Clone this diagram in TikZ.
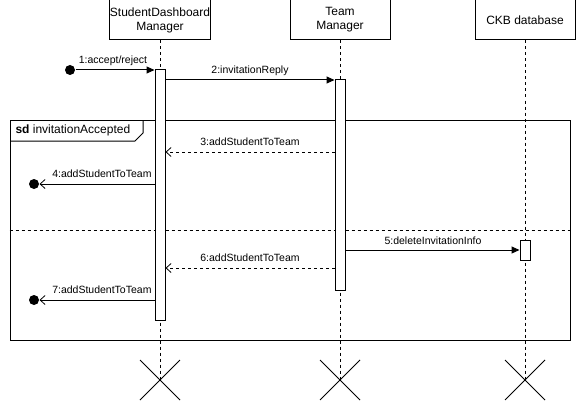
\documentclass[tikz,border=0pt]{standalone}
\usepackage{fontspec}
\setmainfont{Liberation Sans}
\usetikzlibrary{arrows.meta,calc}
\begin{document}
\begin{tikzpicture}[x=1pt,y=-1pt,line width=1pt,
  objbox/.style={draw,fill=white,minimum width=100pt,minimum height=40pt,inner sep=0pt,align=center,font=\fontsize{12}{14}\selectfont},
  actbar/.style={draw,fill=white,minimum width=10pt,inner sep=0pt},
  lifeline/.style={dashed,dash pattern=on 3pt off 3pt,line width=0.8pt},
  enddot/.style={circle,fill=black,minimum size=10pt,inner sep=0pt},
  msglbl/.style={font=\fontsize{10.5}{12}\selectfont,inner sep=0pt},
  syncmsg/.style={-{Triangle[length=8pt,width=7pt]}},
  retmsg/.style={dashed,dash pattern=on 3pt off 3pt,-{Straight Barb[length=5pt,width=9pt,line width=0.8pt]}},
  replymsg/.style={-{Straight Barb[length=5pt,width=9pt,line width=0.8pt]}},
  xmark/.style={line width=0.8pt}]
\useasboundingbox (0,0) rectangle (577,401);

% lifeline heads
\node[objbox] (sdm) at (160,20) {StudentDashboard\\Manager};
\node[objbox] (tm) at (340,20) {Team\\Manager};
\node[objbox] (ckb) at (525,20) {CKB database};

% lifeline ends
\coordinate (sdmEnd) at (160,380);
\coordinate (tmEnd) at (340,380);
\coordinate (ckbEnd) at (525,380);
\draw[lifeline] (sdm.south) -- (sdmEnd);
\draw[lifeline] (tm.south) -- (tmEnd);
\draw[lifeline] (ckb.south) -- (ckbEnd);

% destruction marks
\foreach \n in {sdmEnd,tmEnd,ckbEnd}{
  \draw[xmark] ($(\n)+(-20,-20)$) -- ($(\n)+(20,20)$);
  \draw[xmark] ($(\n)+(-20,20)$) -- ($(\n)+(20,-20)$);
}

% combined fragment
\node[draw,minimum width=560pt,minimum height=220pt,inner sep=0pt] (frame) at (290,230) {};
\draw (10,141) -- (135,141) -- (143,133) -- (143,120);
\node[anchor=west,inner sep=0pt,font=\fontsize{12}{14}\selectfont] (ftitle) at (15,130.5) {\textbf{sd} invitationAccepted};
\draw[dashed,dash pattern=on 3pt off 3pt,line width=0.8pt] (frame.west |- 0,230) -- (frame.east |- 0,230);

% activation bars
\node[actbar,minimum height=250pt] (a1) at (160,195) {};
\node[actbar,minimum height=210pt] (a2) at (340,185) {};
\node[actbar,minimum height=20pt] (a3) at (525,250) {};

% start / end dots
\node[enddot] (d1) at (70,70) {};
\node[enddot] (d4) at (34,184) {};
\node[enddot] (d7) at (34,300) {};

% messages
\draw[syncmsg] (d1) -- (a1.west |- d1);
\node[msglbl] (l1) at (113,61) {1:accept/reject};

\coordinate (m2) at (0,80);
\draw[syncmsg] (a1.east |- m2) -- (a2.west |- m2);
\node[msglbl] (l2) at (250,71) {2:invitationReply};

\coordinate (m3) at (0,152);
\draw[retmsg] (a2.west |- m3) -- (a1.east |- m3);
\node[msglbl] (l3) at (250,142) {3:addStudentToTeam};

\draw[replymsg] (a1.west |- d4) -- (d4.east);
\node[msglbl,anchor=east] (l4) at (152,174) {4:addStudentToTeam};

\coordinate (m5) at (0,250);
\draw[syncmsg] (a2.east |- m5) -- (a3.west |- m5);
\node[msglbl] (l5) at (433,241) {5:deleteInvitationInfo};

\coordinate (m6) at (0,268);
\draw[retmsg] (a2.west |- m6) -- (a1.east |- m6);
\node[msglbl] (l6) at (250,258) {6:addStudentToTeam};

\draw[replymsg] (a1.west |- d7) -- (d7.east);
\node[msglbl,anchor=east] (l7) at (152,290) {7:addStudentToTeam};
\end{tikzpicture}
\end{document}
